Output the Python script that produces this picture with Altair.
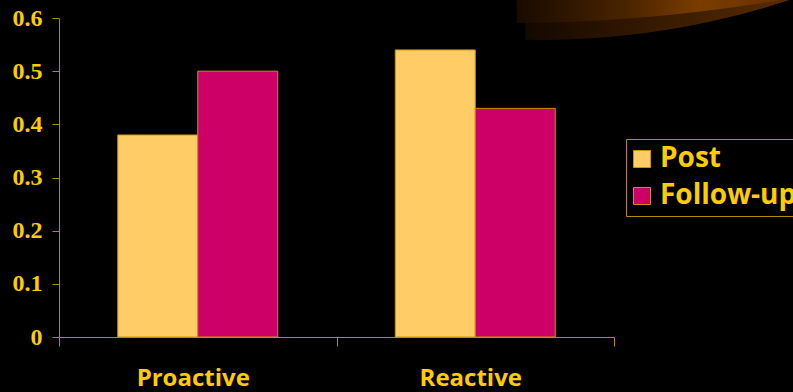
import altair as alt
import pandas as pd

# Data
groups = ["Proactive", "Reactive"]
series = ["Post", "Follow-up"]
post_values = [0.38, 0.54]
followup_values = [0.50, 0.43]
y_ticks = [0, 0.1, 0.2, 0.3, 0.4, 0.5, 0.6]

rows = []
for g, p, f in zip(groups, post_values, followup_values):
    rows.append({"group": g, "series": "Post", "value": p})
    rows.append({"group": g, "series": "Follow-up", "value": f})
df = pd.DataFrame(rows)

GOLD = "#FFCC00"
AXIS = "#B38F00"
PLOT_W, PLOT_H = 555, 319

bars = alt.Chart(df).mark_bar(stroke="#C89400", strokeWidth=1).encode(
    x=alt.X(
        "group:N",
        sort=groups,
        scale=alt.Scale(paddingInner=0, paddingOuter=0),
        axis=alt.Axis(
            title=None,
            labelAngle=0,
            labelFont="Open Sans",
            labelFontWeight="bold",
            labelFontSize=24,
            labelColor=GOLD,
            labelPadding=20,
            labelOffset=-5,
            domainColor=AXIS,
            tickColor=AXIS,
            tickSize=9,
            tickBand="extent",
            grid=False,
        ),
    ),
    xOffset=alt.XOffset(
        "series:N",
        sort=series,
        scale=alt.Scale(paddingInner=0, paddingOuter=0.7344),
    ),
    y=alt.Y(
        "value:Q",
        scale=alt.Scale(domain=[0, 0.6], nice=False),
        axis=alt.Axis(
            title=None,
            values=y_ticks,
            labelExpr="datum.value == 0 ? '0' : format(datum.value, '.1f')",
            labelFont="Liberation Serif",
            labelFontWeight="bold",
            labelFontSize=24,
            labelColor=GOLD,
            labelPadding=10,
            domainColor=AXIS,
            tickColor=AXIS,
            tickSize=7,
            grid=False,
        ),
    ),
    color=alt.Color(
        "series:N",
        sort=series,
        scale=alt.Scale(domain=series, range=["#FFCC66", "#CC0066"]),
        legend=alt.Legend(
            title=None,
            orient="none",
            legendX=567,
            legendY=121,
            direction="vertical",
            strokeColor=AXIS,
            fillColor="#000000",
            padding=6,
            symbolType="square",
            symbolSize=289,
            symbolOffset=-4,
            symbolStrokeColor="#C89400",
            symbolStrokeWidth=1,
            symbolOpacity=1,
            labelFont="Open Sans",
            labelFontWeight="bold",
            labelFontSize=28,
            labelColor=GOLD,
            labelOffset=4,
            rowPadding=9,
            labelLimit=400,
        ),
    ),
)

# Decorative swoosh in the top-right corner
one = pd.DataFrame({"k": [0]})
lower_band = alt.Chart(one).mark_arc(
    fill=alt.LinearGradient(
        gradient="linear", x1=0, x2=1, y1=0, y2=0,
        stops=[
            alt.GradientStop(color="#140800", offset=0),
            alt.GradientStop(color="#3a1c00", offset=0.4),
            alt.GradientStop(color="#5a2c00", offset=0.75),
            alt.GradientStop(color="#5a2c00", offset=1),
        ],
    ),
    outerRadius=797, innerRadius=0, theta=3.14159 - 0.45, theta2=3.14159 + 0.0188,
).encode(x=alt.value(481), y=alt.value(-775))

upper_band = alt.Chart(one).mark_arc(
    fill=alt.LinearGradient(
        gradient="linear", x1=0, x2=1, y1=0, y2=0,
        stops=[
            alt.GradientStop(color="#120700", offset=0),
            alt.GradientStop(color="#4a2400", offset=0.3),
            alt.GradientStop(color="#7a3c00", offset=0.47),
            alt.GradientStop(color="#6a3200", offset=0.68),
            alt.GradientStop(color="#6a3200", offset=1),
        ],
    ),
    outerRadius=1678.5, innerRadius=0, theta=3.14159 - 0.25, theta2=3.14159 - 0.0085,
).encode(x=alt.value(443.7), y=alt.value(-1673.4))

chart = alt.layer(lower_band, upper_band, bars).properties(
    width=PLOT_W,
    height=PLOT_H,
    autosize="none",
    padding={"left": 59, "top": 18, "right": 179, "bottom": 55},
    background="#000000",
).configure_view(strokeWidth=0)

chart.save("out.html", embed_options={"renderer": "svg", "actions": False})
